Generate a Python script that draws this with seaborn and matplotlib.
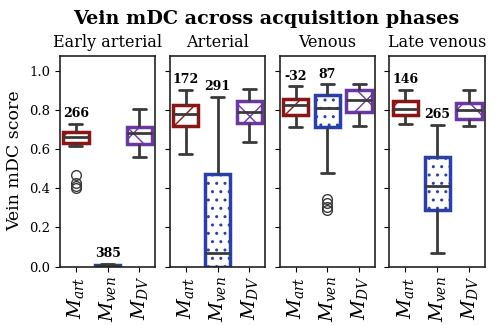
import pandas as pd
import matplotlib
matplotlib.use("Agg")
import matplotlib.pyplot as plt
import seaborn as sns

phases = ["Early arterial", "Arterial", "Venous", "Late venous"]
methods = ["M_art", "M_ven", "M_DV"]
method_labels = [r"$M_{art}$", r"$M_{ven}$", r"$M_{DV}$"]

# vein mDC scores (per phase, per method)
early_art = [0.40, 0.41, 0.43, 0.47, 0.618, 0.632, 0.64, 0.645, 0.65, 0.655, 0.664,
             0.67, 0.675, 0.68, 0.685, 0.69, 0.70, 0.71, 0.72, 0.725, 0.731]
early_ven = [0.0, 0.0, 0.0, 0.002, 0.005, 0.008, 0.01, 0.01, 0.012]
early_dv = [0.563, 0.60, 0.628, 0.66, 0.683, 0.70, 0.715, 0.76, 0.808]

art_art = [0.577, 0.66, 0.72, 0.75, 0.782, 0.80, 0.828, 0.87, 0.905]
art_ven = [0.0, 0.0, 0.0, 0.02, 0.068, 0.25, 0.474, 0.70, 0.869]
art_dv = [0.64, 0.70, 0.734, 0.76, 0.79, 0.82, 0.849, 0.88, 0.909]

ven_art = [0.715, 0.75, 0.778, 0.80, 0.827, 0.84, 0.859, 0.89, 0.922]
ven_ven = [0.29, 0.305, 0.325, 0.345, 0.48, 0.715, 0.73, 0.75, 0.77, 0.79, 0.811,
           0.82, 0.83, 0.845, 0.86, 0.876, 0.89, 0.90, 0.91, 0.92, 0.932]
ven_dv = [0.72, 0.76, 0.79, 0.82, 0.85, 0.88, 0.905, 0.92, 0.932]

late_art = [0.731, 0.76, 0.777, 0.79, 0.809, 0.83, 0.849, 0.87, 0.902]
late_ven = [0.068, 0.20, 0.29, 0.35, 0.414, 0.50, 0.56, 0.65, 0.724]
late_dv = [0.72, 0.74, 0.755, 0.78, 0.799, 0.82, 0.835, 0.87, 0.905]

scores = {
    "Early arterial": [early_art, early_ven, early_dv],
    "Arterial": [art_art, art_ven, art_dv],
    "Venous": [ven_art, ven_ven, ven_dv],
    "Late venous": [late_art, late_ven, late_dv],
}

# numbers printed above the M_art and M_ven boxes
count_art = [266, 172, -32, 146]
count_ven = [385, 291, 87, 265]

rows = []
for phase in phases:
    for method, vals in zip(methods, scores[phase]):
        for v in vals:
            rows.append({"phase": phase, "method": method, "score": v})
df = pd.DataFrame(rows)

sns.set_style("ticks")
plt.rcParams["font.family"] = "DejaVu Serif"
plt.rcParams["mathtext.fontset"] = "dejavuserif"
plt.rcParams["text.color"] = "black"
plt.rcParams["axes.labelcolor"] = "black"
plt.rcParams["xtick.color"] = "black"
plt.rcParams["ytick.color"] = "black"

colors = ["#8b1414", "#2840a8", "#6a38a0"]
hatches = ["/", "..", "x"]
line_col = "#3a3a3a"

fig, axes = plt.subplots(1, 4, figsize=(4.99, 3.25), dpi=100, sharey=True)
fig.subplots_adjust(left=0.12, right=0.972, top=0.829, bottom=0.18, wspace=0.15)

for i, (ax, phase) in enumerate(zip(axes, phases)):
    sub = df[df["phase"] == phase]
    sns.boxplot(data=sub, x="method", y="score", order=methods, ax=ax,
                color="white", linecolor=line_col, linewidth=2, width=0.8,
                flierprops=dict(marker="o", markersize=7, markerfacecolor="none",
                                markeredgecolor=line_col, markeredgewidth=1))
    for patch, col, h in zip(ax.patches, colors, hatches):
        patch.set_facecolor("white")
        patch.set_edgecolor(col)
        patch.set_hatch(h)
        patch.set_linewidth(2.5)

    # annotations above the top whisker
    for j, n in enumerate([count_art[i], count_ven[i]]):
        top = max(scores[phase][j])
        ax.text(j, top + 0.02, str(n), ha="center", va="bottom",
                fontsize=9, fontweight="bold")

    ax.set_title(phase, fontsize=11.5)
    ax.set_xlabel("")
    ax.set_xticks(range(3))
    ax.set_xticklabels(method_labels, rotation=90, fontsize=14)
    ax.set_ylim(0, 1.08)
    ax.set_yticks([0.0, 0.2, 0.4, 0.6, 0.8, 1.0])
    ax.tick_params(axis="y", labelsize=9.5)
    for s in ax.spines.values():
        s.set_linewidth(1.2)
        s.set_color("#222222")
    if i == 0:
        ax.set_ylabel("Vein mDC score", fontsize=12.5)
    else:
        ax.set_ylabel("")

fig.suptitle("Vein mDC across acquisition phases", fontsize=13.8,
             fontweight="bold", x=0.534, y=0.97)
fig.savefig("out.png", dpi=100)
